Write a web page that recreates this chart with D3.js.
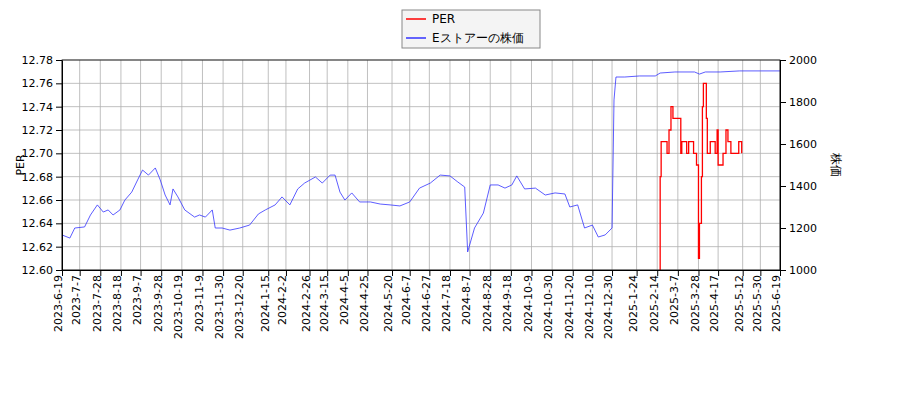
<!DOCTYPE html>
<html><head><meta charset="utf-8">
<script src="https://cdn.jsdelivr.net/npm/d3@7"></script>
<style>body{margin:0;background:#fff}text{font-family:"DejaVu Sans",sans-serif}</style>
</head><body><div id="chart"></div>
<script>
// data: day offsets from 2023-06-19
var startDate = new Date(2023, 5, 19);
var tickLabels = ["2023-6-19","2023-7-7","2023-7-28","2023-8-18","2023-9-7","2023-9-28","2023-10-19","2023-11-9","2023-11-30","2023-12-20","2024-1-15","2024-2-2","2024-2-26","2024-3-15","2024-4-5","2024-4-25","2024-5-20","2024-6-7","2024-6-27","2024-7-18","2024-8-7","2024-8-28","2024-9-18","2024-10-9","2024-10-30","2024-11-20","2024-12-10","2024-12-30","2025-1-24","2025-2-14","2025-3-7","2025-3-28","2025-4-17","2025-5-12","2025-5-30","2025-6-19"];
var priceDays = [0,8,13,23,29,36,42,47,52,59,64,71,77,82,88,95,100,105,110,113,118,125,135,140,146,153,156,163,171,181,191,200,207,217,224,232,240,247,258,265,273,278,283,288,295,303,314,324,334,344,354,364,375,385,395,403,410,413,420,429,436,444,451,458,463,471,482,492,502,512,517,525,532,540,546,553,560,562,564,573,588,604,609,624,644,649,655,670,690,711,731];
var priceVals = [1167,1152,1200,1205,1262,1310,1276,1286,1262,1286,1333,1371,1429,1476,1452,1486,1429,1357,1310,1386,1348,1286,1252,1262,1252,1286,1200,1200,1190,1200,1214,1267,1286,1310,1348,1310,1386,1414,1443,1414,1452,1452,1371,1333,1367,1324,1324,1314,1310,1305,1324,1390,1414,1452,1448,1419,1395,1086,1200,1271,1405,1405,1390,1405,1448,1386,1390,1357,1367,1362,1300,1310,1200,1214,1157,1167,1200,1810,1919,1919,1924,1924,1938,1943,1943,1933,1943,1943,1948,1948,1948];
var perDays = [607,609,610,616,618,620,622,628,630,631,636,638,642,643,646,648,649,651,652,653,656,657,660,662,665,667,668,671,673,676,678,681,687,689,692];
var perVals = [12.55,12.68,12.71,12.70,12.72,12.74,12.73,12.73,12.70,12.71,12.70,12.71,12.71,12.70,12.69,12.61,12.64,12.68,12.74,12.76,12.73,12.70,12.71,12.71,12.70,12.72,12.69,12.69,12.70,12.72,12.71,12.70,12.70,12.71,12.70];

var W = 900, H = 400, m = {l:62, r:120, t:60, b:130};
var svg = d3.select("#chart").append("svg").attr("width", W).attr("height", H);
var parse = d3.timeParse("%Y-%-m-%-d");
var day = function(d){ return d3.timeDay.offset(startDate, d); };

var x = d3.scaleTime().domain([startDate, parse("2025-6-19")]).range([m.l, W - m.r]);
var yL = d3.scaleLinear().domain([12.60, 12.78]).range([H - m.b, m.t]);
var yR = d3.scaleLinear().domain([1000, 2000]).range([H - m.b, m.t]);
var tickDates = tickLabels.map(parse);
var leftTicks = d3.range(0, 10).map(function(i){ return +(12.60 + i * 0.02).toFixed(2); });

// grid
svg.append("g").selectAll("line").data(tickDates).enter().append("line")
  .attr("x1", x).attr("x2", x).attr("y1", m.t).attr("y2", H - m.b)
  .attr("stroke", "#b0b0b0").attr("stroke-width", 0.8);
svg.append("g").selectAll("line").data(leftTicks).enter().append("line")
  .attr("x1", m.l).attr("x2", W - m.r).attr("y1", yL).attr("y2", yL)
  .attr("stroke", "#b0b0b0").attr("stroke-width", 0.8);

svg.append("defs").append("clipPath").attr("id", "clip").append("rect")
  .attr("x", m.l).attr("y", m.t).attr("width", W - m.l - m.r).attr("height", H - m.t - m.b);

var priceLine = d3.line().x(function(d, i){ return x(day(priceDays[i])); }).y(function(d){ return yR(d); });
svg.append("path").datum(priceVals).attr("d", priceLine)
  .attr("fill", "none").attr("stroke", "#3333ff").attr("stroke-width", 0.8).attr("clip-path", "url(#clip)");

var perLine = d3.line().curve(d3.curveStepAfter)
  .x(function(d, i){ return x(day(perDays[i])); }).y(function(d){ return yL(d); });
svg.append("path").datum(perVals).attr("d", perLine)
  .attr("fill", "none").attr("stroke", "red").attr("stroke-width", 1.3).attr("clip-path", "url(#clip)");

// axes
var ax = svg.append("g").attr("transform", "translate(0," + (H - m.b) + ")")
  .call(d3.axisBottom(x).tickValues(tickDates).tickFormat(function(d, i){ return tickLabels[i]; }).tickSizeOuter(0));
ax.selectAll("text").attr("transform", "rotate(-90)").attr("x", -5).attr("y", -4).attr("dy", "0.35em").style("text-anchor", "end");
svg.append("g").attr("transform", "translate(" + m.l + ",0)")
  .call(d3.axisLeft(yL).tickValues(leftTicks).tickFormat(d3.format(".2f")).tickSizeOuter(0));
svg.append("g").attr("transform", "translate(" + (W - m.r) + ",0)")
  .call(d3.axisRight(yR).tickValues(d3.range(1000, 2001, 200)).tickFormat(d3.format("d")).tickSizeOuter(0));
svg.selectAll(".tick text").attr("font-size", 11).attr("fill", "#000").attr("font-family", "DejaVu Sans");
svg.append("rect").attr("x", m.l).attr("y", m.t).attr("width", W - m.l - m.r).attr("height", H - m.t - m.b)
  .attr("fill", "none").attr("stroke", "#000").attr("stroke-width", 0.8);

svg.append("text").attr("transform", "translate(24,165) rotate(-90)").attr("text-anchor", "middle")
  .attr("font-size", 11).text("PER");
svg.append("text").attr("transform", "translate(832,165) rotate(90)").attr("text-anchor", "middle")
  .attr("font-size", 12).attr("font-family", "Noto Sans CJK JP").text("株価");

// legend
var lg = svg.append("g").attr("transform", "translate(402,10)");
lg.append("rect").attr("width", 138).attr("height", 38).attr("fill", "#f4f4f4").attr("stroke", "#888");
var items = [["PER", "red"], ["Eストアーの株価", "#3333ff"]];
items.forEach(function(it, i){
  lg.append("line").attr("x1", 4).attr("x2", 24).attr("y1", 9 + i * 19).attr("y2", 9 + i * 19)
    .attr("stroke", it[1]).attr("stroke-width", 1.5);
  lg.append("text").attr("x", 30).attr("y", 13 + i * 19).attr("font-size", 12)
    .attr("font-family", "DejaVu Sans, Noto Sans CJK JP").text(it[0]);
});
</script></body></html>
